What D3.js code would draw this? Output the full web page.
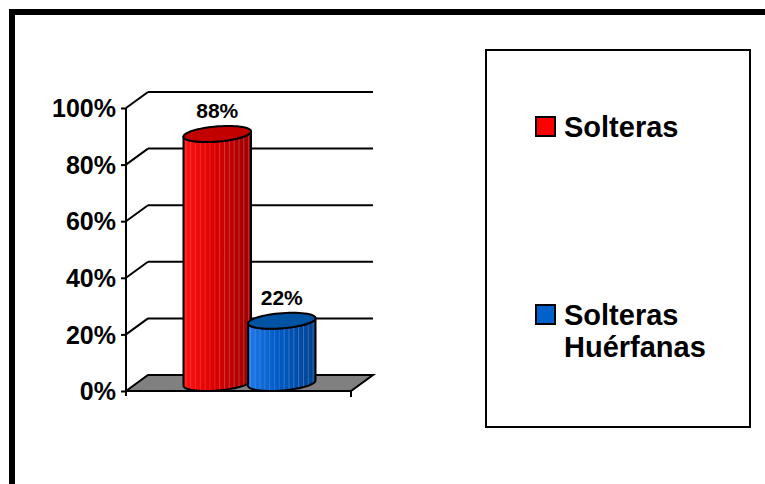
<!DOCTYPE html>
<html>
<head>
<meta charset="utf-8">
<script src="https://cdn.jsdelivr.net/npm/d3@7"></script>
<style>
  html, body { margin: 0; padding: 0; background: #fff; }
  svg { display: block; font-family: Arial, "Liberation Sans", sans-serif; }
</style>
</head>
<body>
<svg id="chart" width="765" height="484"></svg>
<script>
// ---- data ----
const category = ["Total"];
const seriesNames = ["Solteras", "Solteras Huérfanas"];
const seriesValues = [88, 22];
const dataLabels = ["88%", "22%"];
const yTickValues = [0, 20, 40, 60, 80, 100];
const yTickLabels = ["0%", "20%", "40%", "60%", "80%", "100%"];
const seriesColors = [
  { light: "#ff1414", mid: "#dc0000", dark: "#9c0000", top: "#c20000", swatch: "#ff0000" },
  { light: "#1e7ae8", mid: "#005ac4", dark: "#00418e", top: "#0052a2", swatch: "#0060cc" }
];

// ---- layout ----
const svg = d3.select("#chart");
const front = { left: 126, right: 351, bottom: 391, top: 108 };
const depth = { dx: 22, dy: -16 };

const y = d3.scaleLinear().domain([0, 100]).range([front.bottom, front.top]);
const x0 = d3.scaleBand().domain(category).range([front.left, front.right]).paddingInner(0).paddingOuter(0.372);
const x1 = d3.scaleBand().domain(seriesNames).range([0, x0.bandwidth()]).padding(0);

// outer frame (clipped by window on right/bottom)
svg.append("rect").attr("x", 12).attr("y", 12).attr("width", 800).attr("height", 520)
  .attr("fill", "none").attr("stroke", "#000").attr("stroke-width", 6);

const g = svg.append("g");

// back wall gridlines and diagonals
yTickValues.forEach(v => {
  if (v > 0) {
    g.append("line")
      .attr("x1", front.left + depth.dx).attr("x2", front.right + depth.dx)
      .attr("y1", y(v) + depth.dy).attr("y2", y(v) + depth.dy)
      .attr("stroke", "#000").attr("stroke-width", 2);
    g.append("line")
      .attr("x1", front.left).attr("y1", y(v))
      .attr("x2", front.left + depth.dx).attr("y2", y(v) + depth.dy)
      .attr("stroke", "#000").attr("stroke-width", 2);
  }
});

// floor
const floorPts = [
  [front.left, y(0)], [front.left + depth.dx, y(0) + depth.dy],
  [front.right + depth.dx, y(0) + depth.dy], [front.right, y(0)]
];
g.append("polygon").attr("points", floorPts.map(p => p.join(",")).join(" "))
  .attr("fill", "#808080").attr("stroke", "#000").attr("stroke-width", 2).attr("stroke-linejoin", "miter");

// x axis end tick
g.append("line").attr("x1", front.right).attr("x2", front.right)
  .attr("y1", y(0)).attr("y2", y(0) + 6).attr("stroke", "#000").attr("stroke-width", 2);

// y axis
const yAxis = d3.axisLeft(y).tickValues(yTickValues).tickFormat((d, i) => yTickLabels[i]).tickSize(5).tickPadding(5);
const ya = g.append("g").attr("transform", `translate(${front.left},0)`).call(yAxis);
ya.select(".domain").attr("stroke", "#000").attr("stroke-width", 2)
  .attr("d", `M0,${y(100)}V${y(0) + 5}`);
ya.selectAll(".tick line").attr("stroke", "#000").attr("stroke-width", 2);
ya.selectAll(".tick text").attr("font-size", 25).attr("font-weight", "bold")
  .attr("fill", "#000").attr("font-family", "Arial, 'Liberation Sans', sans-serif").attr("dy", "0.35em");

// cylinders
const defs = svg.append("defs");
const rDepthX = depth.dx * 0.5, rDepthY = depth.dy * 0.5;

seriesNames.forEach((name, i) => {
  const c = seriesColors[i];
  const cxFront = x0(category[0]) + x1(name) + x1.bandwidth() / 2;
  const rx = x1.bandwidth() / 2 * 0.99;
  const cx = cxFront + depth.dx / 2;
  const yBase = y(0) + depth.dy / 2;
  const yTop = y(seriesValues[i]) + depth.dy / 2;
  const pt = (t, cy) => [cx + rx * Math.cos(t) + rDepthX * Math.sin(t), cy + rDepthY * Math.sin(t)];
  const t0 = Math.atan2(rDepthX, rx);
  const N = 60;
  const arc = (ta, tb, cy) => d3.range(N + 1).map(k => pt(ta + (tb - ta) * k / N, cy));

  const gradId = "grad" + i;
  const left = pt(t0 + Math.PI, 0)[0], right = pt(t0, 0)[0];
  const grad = defs.append("linearGradient").attr("id", gradId)
    .attr("gradientUnits", "userSpaceOnUse").attr("x1", left).attr("x2", right).attr("y1", 0).attr("y2", 0);
  grad.append("stop").attr("offset", "0%").attr("stop-color", c.light);
  grad.append("stop").attr("offset", "45%").attr("stop-color", c.mid);
  grad.append("stop").attr("offset", "100%").attr("stop-color", c.dark);

  const topFront = arc(t0 + Math.PI, t0 + 2 * Math.PI, yTop);
  const botFront = arc(t0 + 2 * Math.PI, t0 + Math.PI, yBase);
  const sidePts = topFront.concat(botFront);
  const line = d3.line();
  const clipId = "clip" + i;
  defs.append("clipPath").attr("id", clipId).append("path").attr("d", line(sidePts) + "Z");

  g.append("path").attr("d", line(sidePts) + "Z").attr("fill", `url(#${gradId})`);
  // fine vertical stripes
  const stripes = g.append("g").attr("clip-path", `url(#${clipId})`);
  const nStripes = 14;
  d3.range(nStripes).forEach(k => {
    const xs = left + (right - left) * (k + 0.5) / nStripes;
    stripes.append("line").attr("x1", xs).attr("x2", xs).attr("y1", yTop - 20).attr("y2", yBase + 20)
      .attr("stroke", "#fff").attr("stroke-opacity", k < nStripes / 2 ? 0.18 : 0.28).attr("stroke-width", 0.8);
  });
  g.append("path").attr("d", line(sidePts) + "Z").attr("fill", "none")
    .attr("stroke", "#000").attr("stroke-width", 2).attr("stroke-linejoin", "round");
  // top ellipse
  g.append("path").attr("d", line(arc(0, 2 * Math.PI, yTop)) + "Z")
    .attr("fill", c.top).attr("stroke", "#000").attr("stroke-width", 2);

  // data label
  g.append("text").attr("x", cx).attr("y", yTop + rDepthY - 8)
    .attr("text-anchor", "middle").attr("font-size", 21).attr("font-weight", "bold").attr("fill", "#000")
    .text(dataLabels[i]);
});

// legend
const legend = svg.append("g");
legend.append("rect").attr("x", 486).attr("y", 50).attr("width", 264).attr("height", 377)
  .attr("fill", "#fff").attr("stroke", "#000").attr("stroke-width", 2);
const legendY = d3.scalePoint().domain(seriesNames).range([137, 325]);
seriesNames.forEach((name, i) => {
  const base = legendY(name);
  legend.append("rect").attr("x", 536).attr("y", base - 20).attr("width", 19).attr("height", 19)
    .attr("fill", seriesColors[i].swatch).attr("stroke", "#000").attr("stroke-width", 2);
  const t = legend.append("text").attr("x", 564).attr("y", base)
    .attr("font-size", 29).attr("font-weight", "bold").attr("fill", "#000");
  name.split(" ").forEach((w, j) => {
    t.append("tspan").attr("x", 564).attr("dy", j === 0 ? 0 : 32).text(w);
  });
});
</script>
</body>
</html>
